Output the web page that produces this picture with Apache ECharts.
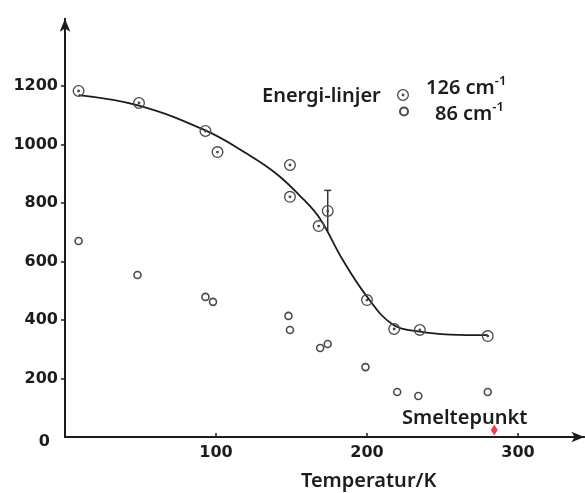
<!DOCTYPE html>
<html>
<head>
<meta charset="utf-8">
<script src="https://cdn.jsdelivr.net/npm/echarts@6/dist/echarts.min.js"></script>
<style>
  html, body { margin: 0; padding: 0; background: #fff; }
  #chart { width: 585px; height: 493px; }
</style>
</head>
<body>
<div id="chart"></div>
<script>
// tick positions
const xTicks = [100, 200, 300];
const yTicks = [0, 200, 400, 600, 800, 1000, 1200];

// 126 cm-1 line (temperature K, energy)
const points126 = [
  [9, 1183], [49, 1142], [93, 1046], [101, 974], [149, 930], [149, 821],
  [168, 721], [174, 773], [200, 468], [218, 369], [235, 366], [280, 345]
];
// 86 cm-1 line
const points86 = [
  [9, 670], [48, 554], [93, 479], [98, 462], [148, 414], [149, 366],
  [169, 304], [174, 318], [199, 239], [220, 154], [234, 140], [280, 154]
];
// hand drawn fit through the 126 points
const fitCurve = [
  [9, 1169], [49, 1133], [93, 1048], [120, 970], [140, 900], [158, 812],
  [169, 745], [184, 605], [200, 480], [217, 385], [235, 360], [255, 350], [280, 348]
];
// [x, low, high]
const errorBars = [[174, 703, 843]];
// melting point marker
const meltPoint = [[284.3, 24]];

const ink = '#1c1c1c';
const ringPath = 'path://M10,0 A10,10 0 1,1 10,20 A10,10 0 1,1 10,0 Z ' +
  'M10,2.2 A7.8,7.8 0 1,0 10,17.8 A7.8,7.8 0 1,0 10,2.2 Z ' +
  'M10,7.6 A2.4,2.4 0 1,1 10,12.4 A2.4,2.4 0 1,1 10,7.6 Z';

function legendText(pad) {
  return {
    color: ink,
    padding: pad,
    rich: {
      n: { fontFamily: 'Noto Sans', fontSize: 20, fontWeight: 600, color: ink },
      s: { fontFamily: 'Noto Sans', fontSize: 13, fontWeight: 600, color: ink, padding: [0, 0, 14, 0] }
    }
  };
}
const legendFmt = function (name) {
  return '{n|' + name + ' cm}{s|-1}';
};

const chart = echarts.init(document.getElementById('chart'));
chart.setOption({
  animation: false,
  backgroundColor: '#fff',
  grid: { left: 65, right: 0.6, top: 18.7, bottom: 56, containLabel: false, outerBoundsMode: 'none' },
  legend: [
    {
      data: ['126'], left: 397, top: 74.5, orient: 'vertical',
      itemWidth: 12, itemHeight: 12, itemGap: 0, padding: 0,
      formatter: legendFmt, textStyle: legendText([0, 0, 14, 12]), selectedMode: false
    },
    {
      data: ['86'], left: 399, top: 101, orient: 'vertical',
      itemWidth: 8, itemHeight: 8, itemGap: 0, padding: 0,
      formatter: legendFmt, textStyle: legendText([6, 0, 0, 22]), selectedMode: false
    }
  ],
  graphic: [
    {
      type: 'text', left: 262, top: 86,
      style: { text: 'Energi-linjer', fontFamily: 'Noto Sans', fontSize: 20, fontWeight: 600, fill: ink }
    },
    {
      type: 'text', left: 402, top: 408,
      style: { text: 'Smeltepunkt', fontFamily: 'Noto Sans', fontSize: 20, fontWeight: 600, fill: ink }
    }
  ],
  xAxis: {
    type: 'value', min: 0, max: 344,
    name: 'Temperatur/K', nameLocation: 'middle', nameGap: 34,
    nameTextStyle: { fontFamily: 'Noto Sans', fontSize: 20, fontWeight: 600, color: ink, padding: [0, 0, 0, 88] },
    axisLine: { show: true, symbol: ['none', 'arrow'], symbolSize: [8, 13], lineStyle: { color: ink, width: 2 } },
    axisTick: { show: true, inside: true, length: 4, customValues: xTicks, lineStyle: { color: ink, width: 1.5 } },
    axisLabel: {
      customValues: xTicks, margin: 8,
      fontFamily: 'DejaVu Sans', fontSize: 16, fontWeight: 'bold', color: ink
    },
    splitLine: { show: false }
  },
  yAxis: {
    type: 'value', min: 0, max: 1430,
    axisLine: { show: true, symbol: ['none', 'arrow'], symbolSize: [8, 13], lineStyle: { color: ink, width: 2 } },
    axisTick: { show: true, length: 4, customValues: yTicks.slice(1), lineStyle: { color: ink, width: 1.5 } },
    axisLabel: {
      customValues: yTicks, margin: 7,
      fontFamily: 'DejaVu Sans', fontSize: 16, fontWeight: 'bold', color: ink,
      formatter: function (v) { return v === 0 ? '{z|0}' : String(v); },
      rich: { z: { fontFamily: 'DejaVu Sans', fontSize: 16, fontWeight: 'bold', color: ink, padding: [10, 8, 0, 0] } }
    },
    splitLine: { show: false }
  },
  series: [
    {
      name: 'fit', type: 'line', data: fitCurve, smooth: 0.4,
      showSymbol: false, symbol: 'none',
      lineStyle: { color: ink, width: 1.8 }, z: 2
    },
    {
      name: 'err', type: 'custom', data: errorBars, z: 2,
      renderItem: function (params, api) {
        const lo = api.coord([api.value(0), api.value(1)]);
        const hi = api.coord([api.value(0), api.value(2)]);
        return {
          type: 'group',
          children: [
            { type: 'line', shape: { x1: lo[0], y1: lo[1], x2: hi[0], y2: hi[1] }, style: { stroke: '#333', lineWidth: 1.5 } },
            { type: 'line', shape: { x1: hi[0] - 3.5, y1: hi[1], x2: hi[0] + 3.5, y2: hi[1] }, style: { stroke: '#333', lineWidth: 1.5 } }
          ]
        };
      }
    },
    {
      name: '126', type: 'scatter', data: points126,
      symbol: ringPath, symbolSize: 12,
      itemStyle: { color: '#4a4a4a', opacity: 1 }, z: 3
    },
    {
      name: '86', type: 'scatter', data: points86,
      symbol: 'circle', symbolSize: 7,
      itemStyle: { color: '#fff', borderColor: '#4a4a4a', borderWidth: 1.6, opacity: 1 }, z: 3
    },
    {
      name: 'melt', type: 'scatter', data: meltPoint,
      symbol: 'diamond', symbolSize: [7, 11],
      itemStyle: { color: '#e8141c' }, z: 4
    }
  ]
});
</script>
</body>
</html>
